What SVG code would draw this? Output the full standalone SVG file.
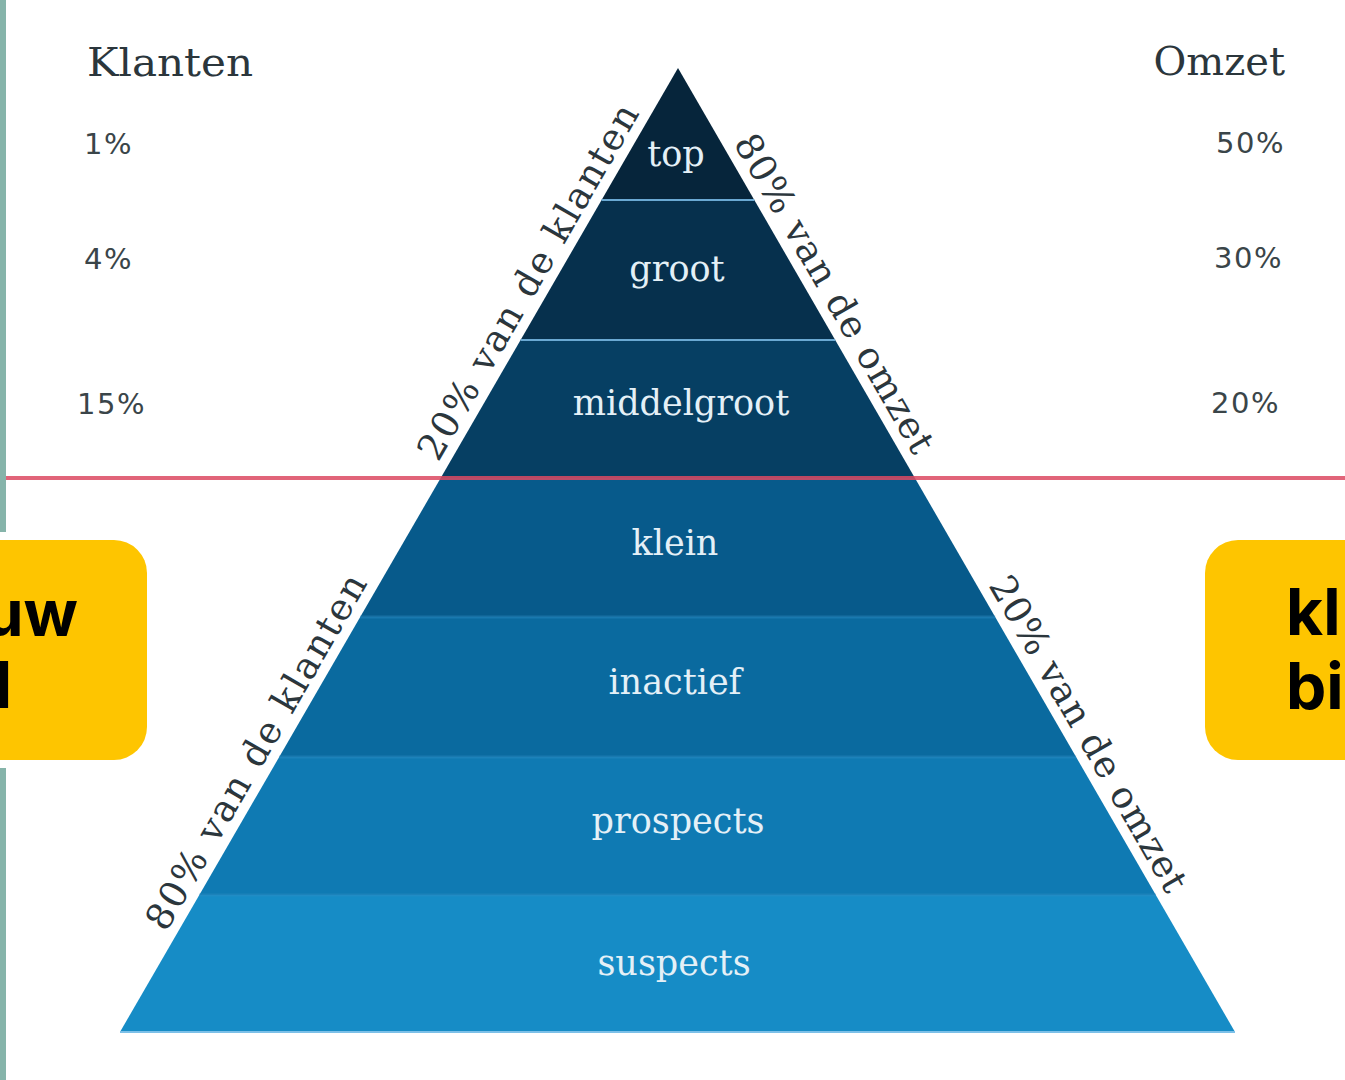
<svg xmlns="http://www.w3.org/2000/svg" width="1345" height="1080" viewBox="0 0 1345 1080">
<style>
.side{font-family:"DejaVu Serif","Liberation Serif",serif;fill:#2b363c;}
.pct{font-family:"DejaVu Sans","Liberation Sans",sans-serif;font-size:29px;fill:#3a4549;letter-spacing:1.5px;}
.lbl{font-family:"DejaVu Serif","Liberation Serif",serif;font-size:35px;fill:#e4f0f7;text-anchor:middle;}
.edge{font-family:"DejaVu Serif","Liberation Serif",serif;font-size:37px;fill:#2b363c;}
.big{font-family:Inter,"Open Sans","DejaVu Sans",sans-serif;font-size:64px;font-weight:700;fill:#000;}
.sep{stroke:#6aa9d3;stroke-width:2;}
.sep2{stroke:#2d8cc4;stroke-width:3;opacity:0.45;}
</style>
<rect width="1345" height="1080" fill="#ffffff"/>
<rect x="0" y="0" width="6" height="532" fill="#86b4aa"/>
<rect x="0" y="768" width="6" height="312" fill="#86b4aa"/>

<g id="pyramid">
  <g id="band-top"><polygon points="678,68 754.3,200 601.6,200" fill="#06253b"/><text class="lbl" x="676" y="166">top</text></g>
  <g id="band-groot"><polygon points="601.6,200 754.3,200 835.2,340 520.6,340" fill="#06304d"/><text class="lbl" x="677" y="281">groot</text></g>
  <g id="band-middelgroot"><polygon points="520.6,340 835.2,340 914.9,478 440.7,478" fill="#063f63"/><text class="lbl" x="681" y="415">middelgroot</text></g>
  <g id="band-klein"><polygon points="440.7,478 914.9,478 995.2,617 360.2,617" fill="#075a8b"/><text class="lbl" x="675" y="555">klein</text></g>
  <g id="band-inactief"><polygon points="360.2,617 995.2,617 1076.1,757 279.2,757" fill="#0a6a9f"/><text class="lbl" x="675" y="694">inactief</text></g>
  <g id="band-prospects"><polygon points="279.2,757 1076.1,757 1155.8,895 199.3,895" fill="#0f7ab3"/><text class="lbl" x="678" y="833">prospects</text></g>
  <g id="band-suspects"><polygon points="199.3,895 1155.8,895 1235,1032 120,1032" fill="#168cc6"/><text class="lbl" x="674" y="975">suspects</text></g>
  <line class="sep" x1="601.6" y1="200" x2="754.3" y2="200"/>
  <line class="sep" x1="520.6" y1="340" x2="835.2" y2="340"/>
  <line class="sep2" x1="360.2" y1="617" x2="995.2" y2="617"/>
  <line class="sep2" x1="279.2" y1="757" x2="1076.1" y2="757"/>
  <line class="sep2" x1="199.3" y1="895" x2="1155.8" y2="895"/>
  <line x1="120" y1="1032" x2="1235" y2="1032" stroke="#7cc0e8" stroke-width="2"/>
</g>

<g id="connectors">
  <line x1="6" y1="478" x2="1345" y2="478" stroke="#dc4a62" stroke-width="4" opacity="0.85"/>
</g>

<g id="edge-labels">
  <text class="edge" transform="translate(438,463) rotate(-60)" textLength="404" lengthAdjust="spacing">20% van de klanten</text>
  <text class="edge" transform="translate(166,933) rotate(-60)" textLength="404" lengthAdjust="spacing">80% van de klanten</text>
  <text class="edge" transform="translate(733,143) rotate(60)" textLength="362" lengthAdjust="spacing">80% van de omzet</text>
  <text class="edge" transform="translate(988,585) rotate(60)" textLength="358" lengthAdjust="spacing">20% van de omzet</text>
</g>

<g id="klanten-column">
  <text class="side" x="87" y="76" font-size="40" textLength="166" lengthAdjust="spacingAndGlyphs">Klanten</text>
  <text class="pct" x="84" y="154">1%</text>
  <text class="pct" x="84" y="269">4%</text>
  <text class="pct" x="77" y="414">15%</text>
</g>

<g id="omzet-column">
  <text class="side" x="1285" y="75" font-size="40" text-anchor="end">Omzet</text>
  <text class="pct" x="1285" y="153" text-anchor="end">50%</text>
  <text class="pct" x="1283" y="268" text-anchor="end">30%</text>
  <text class="pct" x="1280" y="413" text-anchor="end">20%</text>
</g>

<g id="box-left">
  <rect x="-40" y="540" width="187" height="220" rx="33" fill="#fec500"/>
  <text class="big" x="78" y="636" text-anchor="end">uw</text>
  <text class="big" x="12" y="708" text-anchor="end">d</text>
</g>

<g id="box-right">
  <rect x="1205" y="540" width="180" height="220" rx="33" fill="#fec500"/>
  <text class="big" x="1286" y="635">kl</text>
  <text class="big" x="1286" y="709">bi</text>
</g>
</svg>
